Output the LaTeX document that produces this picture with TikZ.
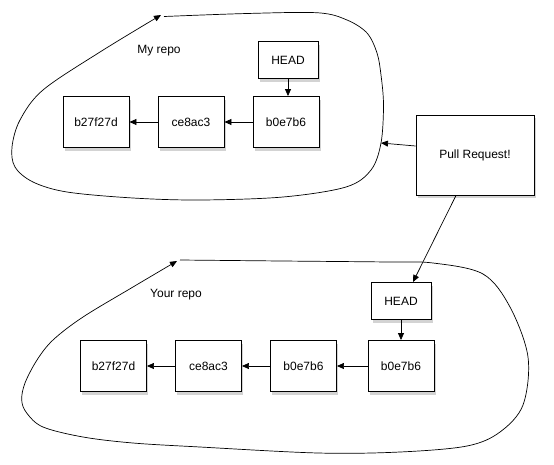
\documentclass[tikz,border=0pt]{standalone}
\usepackage{fontspec}
\setmainfont{Liberation Sans}
\usetikzlibrary{arrows.meta,shadows}
\begin{document}
\begin{tikzpicture}[x=1pt, y=-1pt, >={Stealth[length=7pt,width=6pt,inset=0pt]},
	font=\fontsize{12}{14}\selectfont,
	commit/.style={draw, fill=white, line width=0.9pt, inner sep=0pt,
		minimum width=66pt, minimum height=51pt,
		drop shadow={opacity=0.35, fill=gray, shadow xshift=1.5pt, shadow yshift=-3pt}},
	headbox/.style={commit, minimum width=60pt, minimum height=37pt},
	prbox/.style={commit, minimum width=118pt, minimum height=80pt},
	blob/.style={line width=0.7pt},
	link/.style={->, line width=0.7pt}]
	\useasboundingbox (0,0) rectangle (554,464);
	\def\yMine{122}
	\def\yYours{366}
	
	% My repo
	\draw[blob, ->] plot[smooth, tension=0.55] coordinates {
		(164,16.5) (247,13.5) (318,12.8) (347,20) (367,33) (377,53) (381,75)
		(383.5,105) (381,143) (371,170) (346,187) (283,197) (200,200)
		(133,198) (67,192) (33,182) (15,167) (12,147) (20,120) (43,90)
		(100,52) (161,15)};
	\node (mlabel) at (159,51) {My repo};
	\node[commit] (mb27) at (96,\yMine) {b27f27d};
	\node[commit] (mce8) at (191,\yMine) {ce8ac3};
	\node[commit] (mb0e) at (286,\yMine) {b0e7b6};
	\node[headbox] (mhead) at (288,60) {HEAD};
	\draw[link] (mce8) -- (mb27);
	\draw[link] (mb0e) -- (mce8);
	\draw[link] (mhead.south) -- (mhead.south |- mb0e.north);
	\coordinate (mrim) at (381,143);
	
	% Pull request
	\node[prbox] (pr) at (475,155) {Pull Request!};
	
	% Your repo
	\draw[blob, ->] plot[smooth, tension=0.55] coordinates {
		(180,260) (282,261) (388,262) (433,263) (483,274) (510,307)
		(528,357) (523,405) (500,432) (467,446) (400,452) (318,453)
		(200,447) (133,443) (83,437) (43,427) (26.7,413) (21.7,400)
		(25,383) (37,360) (53,340) (83,317) (133,287) (177,261)};
	\node (ylabel) at (176,295) {Your repo};
	\node[commit] (yb27) at (113.5,\yYours) {b27f27d};
	\node[commit] (yce8) at (208.5,\yYours) {ce8ac3};
	\node[commit] (yb0e) at (303.5,\yYours) {b0e7b6};
	\node[commit] (ytip) at (401,\yYours) {b0e7b6};
	\node[headbox] (yhead) at (401,301) {HEAD};
	\draw[link] (yce8) -- (yb27);
	\draw[link] (yb0e) -- (yce8);
	\draw[link] (ytip) -- (yb0e);
	\draw[link] (yhead) -- (ytip);
	
	% Flechas del pull request
	\draw[link] ([yshift=9pt]pr.west) -- (mrim);
	\draw[link] ([xshift=-19pt]pr.south) -- ([xshift=12pt]yhead.north);
\end{tikzpicture}
\end{document}
